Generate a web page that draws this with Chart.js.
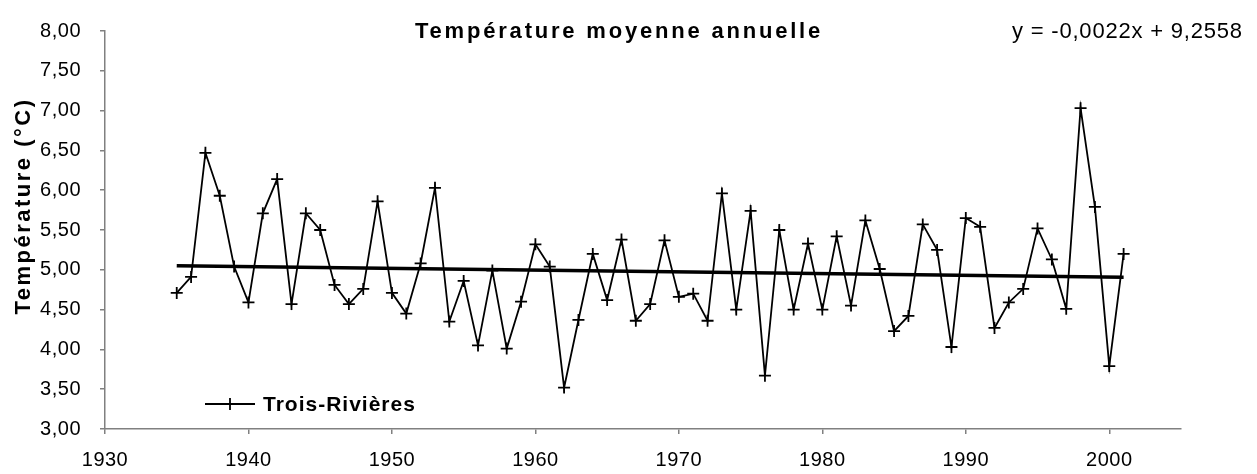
<!DOCTYPE html>
<html>
<head>
<meta charset="utf-8">
<script src="https://cdn.jsdelivr.net/npm/chart.js@4"></script>
<style>
  html, body { margin: 0; padding: 0; background: #fff; }
  #wrap { width: 1257px; height: 474px; }
</style>
</head>
<body>
<div id="wrap"><canvas id="chart" width="1257" height="474"></canvas></div>
<script>
// Trois-Rivières, température moyenne annuelle (°C)
const years = [
  1935, 1936, 1937, 1938, 1939, 1940, 1941, 1942, 1943, 1944,
  1945, 1946, 1947, 1948, 1949, 1950, 1951, 1952, 1953, 1954,
  1955, 1956, 1957, 1958, 1959, 1960, 1961, 1962, 1963, 1964,
  1965, 1966, 1967, 1968, 1969, 1970, 1971, 1972, 1973, 1974,
  1975, 1976, 1977, 1978, 1979, 1980, 1981, 1982, 1983, 1984,
  1985, 1986, 1987, 1988, 1989, 1990, 1991, 1992, 1993, 1994,
  1995, 1996, 1997, 1998, 1999, 2000, 2001
];
const temps = [
  4.71, 4.91, 6.47, 5.93, 5.04, 4.59, 5.71, 6.14, 4.57, 5.71,
  5.50, 4.81, 4.57, 4.76, 5.86, 4.71, 4.45, 5.08, 6.03, 4.35,
  4.86, 4.05, 4.99, 4.01, 4.60, 5.32, 5.04, 3.52, 4.37, 5.20,
  4.62, 5.38, 4.36, 4.57, 5.37, 4.66, 4.70, 4.36, 5.96, 4.50,
  5.74, 3.67, 5.50, 4.50, 5.33, 4.50, 5.42, 4.55, 5.62, 5.01,
  4.23, 4.42, 5.57, 5.25, 4.03, 5.65, 5.54, 4.27, 4.59, 4.76,
  5.52, 5.13, 4.51, 7.03, 5.79, 3.79, 5.20
];
// droite de tendance (extrémités)
const trendYears = [1935, 2001];
const trendTemps = [5.05, 4.905];

const TITLE = 'Température moyenne annuelle';
const EQUATION = 'y = -0,0022x + 9,2558';
const Y_TITLE = 'Température (°C)';
const SERIES_NAME = 'Trois-Rivières';

const FONT = '"Liberation Sans", Arial, Helvetica, sans-serif';
const AXIS_GRAY = '#808080';

// texts drawn on the canvas (title, equation, axis title, legend)
const textPlugin = {
  id: 'texts',
  beforeDraw(chart) {
    chart.ctx.letterSpacing = '0.5px';
  },
  afterDraw(chart) {
    const ctx = chart.ctx;
    const area = chart.chartArea;
    ctx.save();
    ctx.fillStyle = '#000';

    // title
    ctx.font = 'bold 22px ' + FONT;
    ctx.letterSpacing = '2.8px';
    ctx.textAlign = 'center';
    ctx.textBaseline = 'alphabetic';
    ctx.fillText(TITLE, 619, 38);

    // trend equation
    ctx.font = '22px ' + FONT;
    ctx.letterSpacing = '0.8px';
    ctx.textAlign = 'left';
    ctx.fillText(EQUATION, 1012, 38);

    // y axis title
    ctx.save();
    ctx.translate(30, 206);
    ctx.rotate(-Math.PI / 2);
    ctx.font = 'bold 22px ' + FONT;
    ctx.letterSpacing = '2.5px';
    ctx.textAlign = 'center';
    ctx.fillText(Y_TITLE, 0, 0);
    ctx.restore();

    // legend, inside the plot, bottom left
    const ly = area.bottom - 25;
    const lx = area.left + 100;
    ctx.strokeStyle = '#000';
    ctx.lineWidth = 1.8;
    ctx.beginPath();
    ctx.moveTo(lx, ly);
    ctx.lineTo(lx + 50, ly);
    ctx.moveTo(lx + 25, ly - 6);
    ctx.lineTo(lx + 25, ly + 6);
    ctx.stroke();
    ctx.font = 'bold 21px ' + FONT;
    ctx.letterSpacing = '1px';
    ctx.textAlign = 'left';
    ctx.textBaseline = 'middle';
    ctx.fillText(SERIES_NAME, lx + 58, ly + 1);

    ctx.restore();
  }
};

new Chart(document.getElementById('chart'), {
  type: 'line',
  data: {
    datasets: [
      {
        label: SERIES_NAME,
        data: years.map((y, i) => ({ x: y, y: temps[i] })),
        borderColor: '#000',
        borderWidth: 1.8,
        pointStyle: 'cross',
        pointRadius: 6,
        pointBorderWidth: 1.8,
        pointBorderColor: '#000',
        tension: 0,
        order: 1,
      },
      {
        label: 'Tendance',
        data: trendYears.map((y, i) => ({ x: y, y: trendTemps[i] })),
        borderColor: '#000',
        borderWidth: 3.5,
        pointRadius: 0,
        tension: 0,
        order: 0,
      },
    ],
  },
  options: {
    responsive: false,
    animation: false,
    layout: { padding: { top: 17, right: 76, left: 0, bottom: 0 } },
    plugins: {
      legend: { display: false },
      tooltip: { enabled: false },
      title: { display: false },
    },
    scales: {
      x: {
        type: 'linear',
        min: 1930,
        max: 2005,
        afterFit: s => { s.height = 45; },
        afterBuildTicks: s => { s.ticks = s.ticks.filter(t => t.value % 10 === 0); },
        ticks: {
          stepSize: 10,
          color: '#000',
          padding: 14,
          maxRotation: 0,
          font: { family: FONT, size: 20 },
          callback: v => String(v),
        },
        grid: { drawOnChartArea: false, tickLength: 5, color: AXIS_GRAY, lineWidth: 1.5 },
        border: { color: AXIS_GRAY, width: 1.5 },
      },
      y: {
        min: 3,
        max: 8,
        afterFit: s => { s.width = 105; },
        ticks: {
          stepSize: 0.5,
          color: '#000',
          padding: 19,
          font: { family: FONT, size: 20 },
          callback: v => v.toFixed(2).replace('.', ','),
        },
        grid: { drawOnChartArea: false, tickLength: 5, color: AXIS_GRAY, lineWidth: 1.5 },
        border: { color: AXIS_GRAY, width: 1.5 },
      },
    },
  },
  plugins: [textPlugin],
});
</script>
</body>
</html>
